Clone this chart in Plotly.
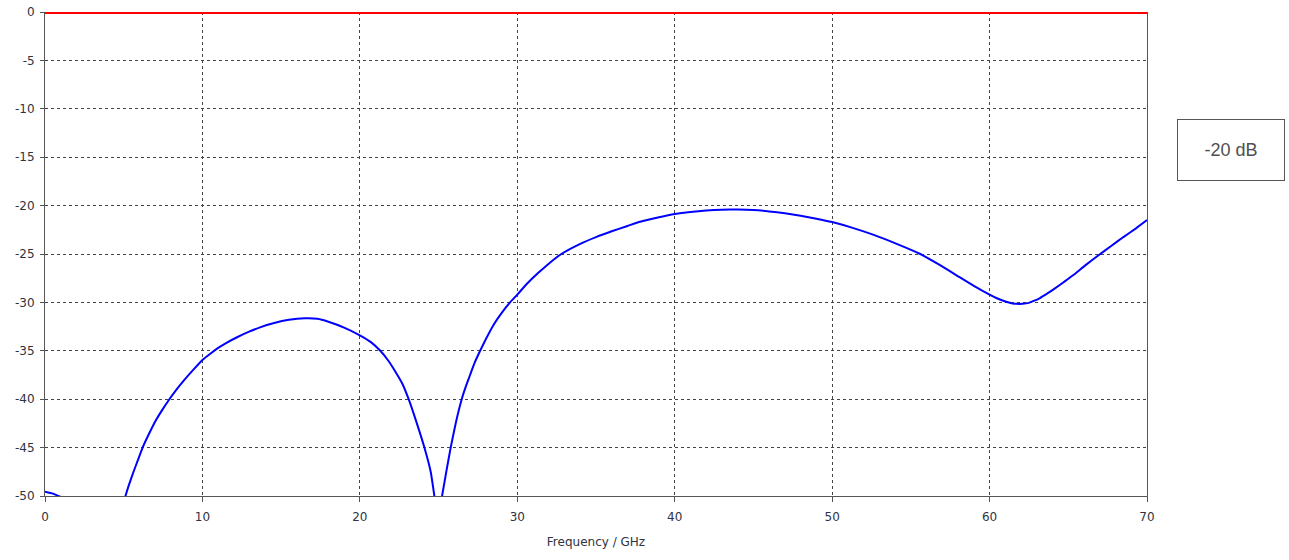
import plotly.graph_objects as go

# Reflection curve (blue); None splits the segments clipped at -50 dB
freq_ghz = [0, 0.5, 1.0, None,
            5.0, 5.3, 5.6, 5.9, 6.2, 6.6, 7.0, 7.45, 7.9, 8.35, 8.8, 9.4, 10, 10.5, 11.0, 11.5,
            12.2, 13, 13.7, 14.5, 15.5, 16.5, 17.3, 18, 19, 20, 20.7, 21.3, 21.8, 22.2, 22.7,
            23.1, 23.6, 24.1, 24.5, 24.75, None,
            25.2, 25.5, 25.77, 26.1, 26.47, 26.75, 27.0, 27.3, 27.64, 28.0, 28.5, 29.0, 29.54,
            30, 30.6, 31.3, 32.0, 32.8, 34, 35, 36, 37, 37.8, 39.0, 40, 41, 42, 43, 44, 45, 46,
            47, 48, 49, 50, 51.3, 52.6, 54.1, 55.6, 56.8, 57.9, 59.0, 60, 60.5, 61, 61.4, 61.7,
            62.1, 62.5, 62.8, 63.2, 63.7, 64.2, 64.8, 65.3, 66.1, 66.9, 67.7, 68.5, 69.3, 70]
s11_db = [-49.55, -49.75, -50.1, None,
          -50.6, -49.0, -47.6, -46.3, -45, -43.6, -42.3, -41.1, -40, -39.0, -38.1, -37.0, -35.95,
          -35.3, -34.7, -34.2, -33.6, -33.0, -32.55, -32.15, -31.8, -31.65, -31.7, -32.0, -32.6,
          -33.4, -34.1, -35, -36.0, -37.0, -38.4, -40, -42.4, -45, -47.5, -50.2, None,
          -50.2, -47.4, -45, -42.4, -40, -38.6, -37.5, -36.2, -35, -33.8, -32.3, -31.1, -30,
          -29.2, -28.1, -27, -26.0, -25, -23.95, -23.25, -22.65, -22.1, -21.66, -21.2, -20.87,
          -20.65, -20.5, -20.42, -20.4, -20.45, -20.6, -20.8, -21.05, -21.35, -21.7, -22.3, -23.0,
          -23.95, -25, -26.1, -27.2, -28.3, -29.2, -29.6, -29.9, -30.08, -30.15, -30.15, -30.05,
          -29.85, -29.55, -29.05, -28.5, -27.8, -27.2, -26.15, -25.15, -24.2, -23.25, -22.35, -21.5]

# Reference line at 0 dB (red)
ref_freq = [0, 70]
ref_db = [0, 0]

x_ticks = [0, 10, 20, 30, 40, 50, 60, 70]
y_ticks = [0, -5, -10, -15, -20, -25, -30, -35, -40, -45, -50]
legend_label = "-20 dB"
x_title = "Frequency / GHz"

fig = go.Figure()
fig.add_trace(go.Scatter(x=freq_ghz, y=s11_db, mode="lines",
                         line=dict(color="#0000ff", width=2, shape="spline", smoothing=0.4),
                         connectgaps=False, showlegend=False))
fig.add_trace(go.Scatter(x=ref_freq, y=ref_db, mode="lines",
                         line=dict(color="#ff0000", width=4), showlegend=False))

axis_font = dict(family="DejaVu Sans, Verdana, sans-serif", size=12, color="#2f3340")

fig.update_layout(
    width=1289, height=560,
    margin=dict(l=45, r=142, t=12, b=64),
    paper_bgcolor="white", plot_bgcolor="white",
    xaxis=dict(range=[0, 70], tickvals=x_ticks, ticktext=[str(v) for v in x_ticks],
               showgrid=True, gridcolor="#444444", griddash="3px,3px", gridwidth=1,
               showline=True, linecolor="#555555", linewidth=1, mirror=False,
               ticks="outside", ticklen=5, tickcolor="#555555", ticklabelstandoff=5,
               tickfont=axis_font, zeroline=False, automargin=False,
               title=dict(text=x_title, font=dict(family="DejaVu Sans, Verdana, sans-serif",
                                                   size=12, color="#2f3340"), standoff=14)),
    yaxis=dict(range=[-50, 0], tickvals=y_ticks, ticktext=[str(v) for v in y_ticks],
               showgrid=True, gridcolor="#444444", griddash="3px,3px", gridwidth=1,
               showline=True, linecolor="#555555", linewidth=1, mirror=True,
               ticks="outside", ticklen=4, tickcolor="#555555", ticklabelstandoff=3,
               tickfont=axis_font, zeroline=False, automargin=False),
    annotations=[dict(text=legend_label, xref="paper", yref="paper",
                      x=1.076, y=0.715, xanchor="center", yanchor="middle",
                      showarrow=False, bordercolor="#555555", borderwidth=1,
                      borderpad=0, width=106, height=60, bgcolor="white",
                      font=dict(family="Liberation Sans, Arial, sans-serif", size=18,
                                color="#505050"))],
)

fig.write_html("out.html")
